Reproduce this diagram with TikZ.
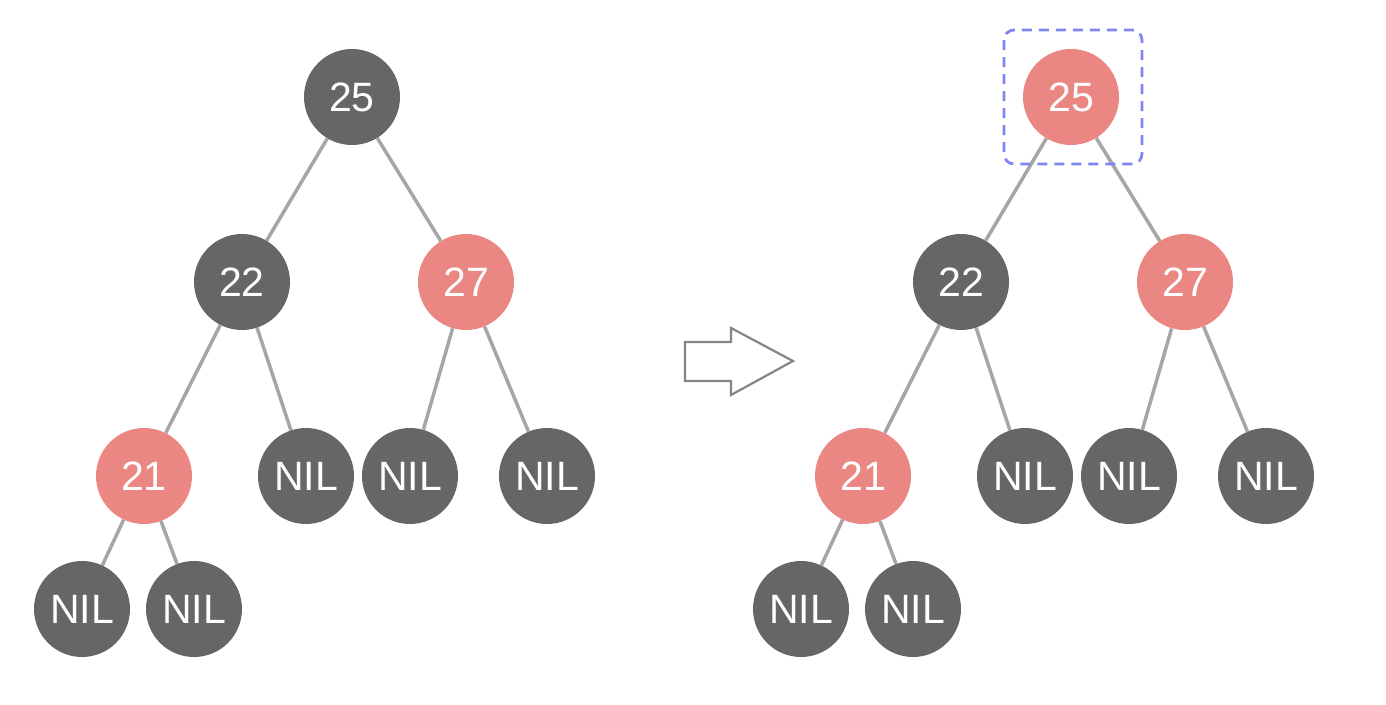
\documentclass[tikz,border=0pt]{standalone}
\usepackage{fontspec}
\setmainfont{Liberation Sans}
\usepackage{tikz}
\usetikzlibrary{backgrounds}
\definecolor{blk}{HTML}{666666}
\definecolor{rd}{HTML}{EB8782}
\definecolor{edg}{HTML}{A6A6A6}
\definecolor{sel}{HTML}{7F85F5}

\begin{document}
\begin{tikzpicture}[x=1pt,y=-1pt,
  bnode/.style={circle,fill=blk,minimum size=96pt,inner sep=0pt,text=white,font=\fontsize{41}{41}\selectfont},
  rnode/.style={bnode,fill=rd},
  edge/.style={draw=edg,line width=3.5pt}]
  \useasboundingbox (0,0) rectangle (1386,704);
  % left tree
  \node[bnode] (a25) at (352,97) {25};
  \node[bnode] (a22) at (242,282) {22};
  \node[rnode] (a27) at (466,282) {27};
  \node[rnode] (a21) at (144,476) {21};
  \node[bnode] (an1) at (306,476) {NIL};
  \node[bnode] (an2) at (410,476) {NIL};
  \node[bnode] (an3) at (547,476) {NIL};
  \node[bnode] (an4) at (82,609) {NIL};
  \node[bnode] (an5) at (194,609) {NIL};
  % right tree
  \node[rnode] (b25) at (1071,97) {25};
  \node[bnode] (b22) at (961,282) {22};
  \node[rnode] (b27) at (1185,282) {27};
  \node[rnode] (b21) at (863,476) {21};
  \node[bnode] (bn1) at (1025,476) {NIL};
  \node[bnode] (bn2) at (1129,476) {NIL};
  \node[bnode] (bn3) at (1266,476) {NIL};
  \node[bnode] (bn4) at (801,609) {NIL};
  \node[bnode] (bn5) at (913,609) {NIL};
  \begin{scope}[on background layer]
  \foreach \t in {a,b} {
    \draw[edge] (\t25) -- (\t22);
    \draw[edge] (\t25) -- (\t27);
    \draw[edge] (\t22) -- (\t21);
    \draw[edge] (\t22) -- (\t n1);
    \draw[edge] (\t27) -- (\t n2);
    \draw[edge] (\t27) -- (\t n3);
    \draw[edge] (\t21) -- (\t n4);
    \draw[edge] (\t21) -- (\t n5);
  }
  \end{scope}
  % highlight
  \draw[sel,line width=2.8pt,dash pattern=on 10pt off 7pt,rounded corners=10pt]
    (1004,30) rectangle (1142,164);
  % arrow
  \draw[edg!80!black,line width=2.2pt,line join=miter]
    (685,342) -- (731,342) -- (731,328) -- (793,361) -- (731,395)
    -- (731,381) -- (685,381) -- cycle;
\end{tikzpicture}
\end{document}
